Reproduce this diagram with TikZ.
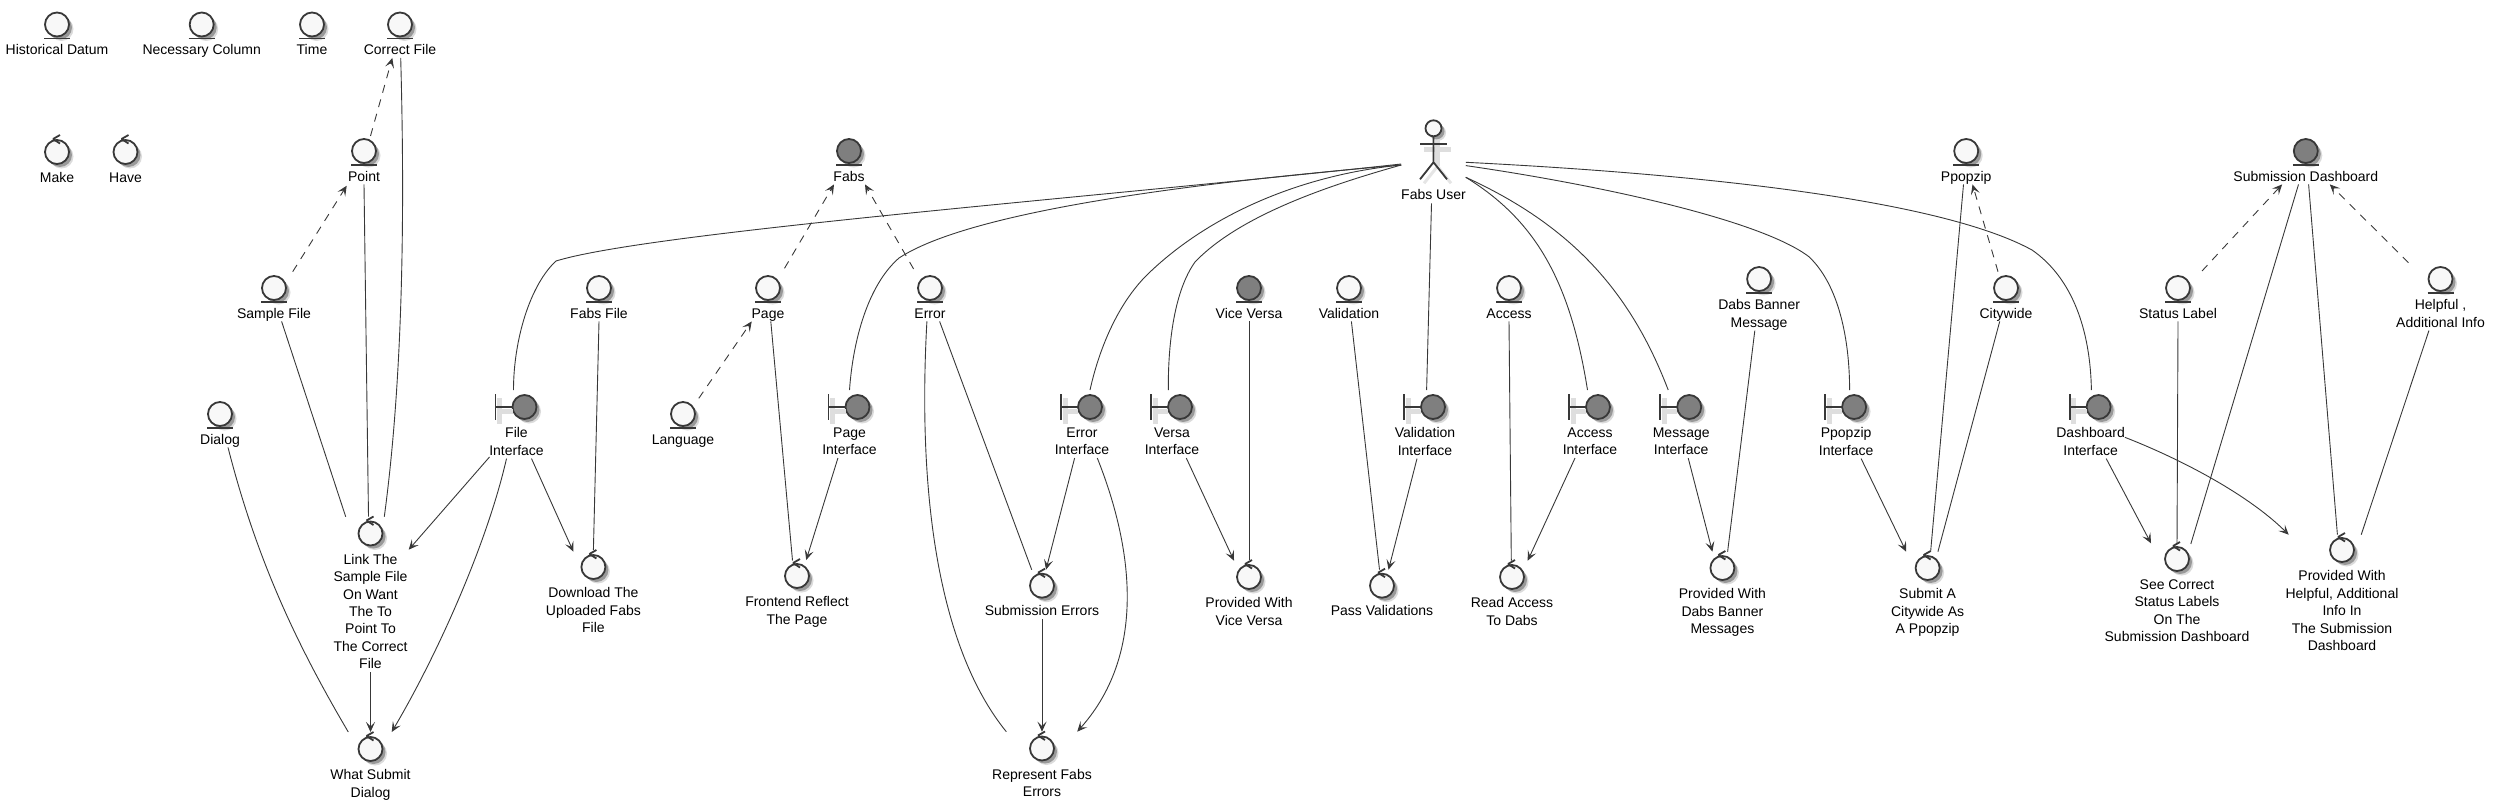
\documentclass[tikz,border=0pt]{standalone}
\usepackage{fontspec}
\setmainfont{Liberation Sans}
\usetikzlibrary{positioning}
\usetikzlibrary{shadows}
\usetikzlibrary{arrows.meta}
\definecolor{inkline}{HTML}{383838}
\definecolor{paleball}{HTML}{F8F8F8}
\definecolor{darkball}{HTML}{7F7F7F}
\newcommand{\labelstrut}{\rule[-3.35pt]{0pt}{16.7pt}}
\tikzset{
    glyphline/.style={draw=inkline, line width=1.8pt},
    glyphshade/.style={draw=black!13, line width=5pt},
    softshadow/.style={drop shadow={shadow xshift=4.5pt, shadow yshift=-4.5pt, fill=black, opacity=0.14}, drop shadow={shadow xshift=3pt, shadow yshift=-3pt, fill=black, opacity=0.3}},
    ball/.style={circle, minimum size=24pt, inner sep=0pt, outer sep=0pt, fill=paleball, glyphline, softshadow},
    darkfill/.style={fill=darkball},
    entity/.style={ball, append after command={([xshift=-13pt,yshift=-2pt]\tikzlastnode.south) edge[glyphline] ([xshift=13pt,yshift=-2pt]\tikzlastnode.south)}},
    control/.style={ball, append after command={([xshift=-4pt,yshift=13pt]\tikzlastnode.center) edge[glyphline] ([xshift=3pt,yshift=17pt]\tikzlastnode.center) ([xshift=-4pt,yshift=13pt]\tikzlastnode.center) edge[glyphline] ([xshift=3pt,yshift=8.5pt]\tikzlastnode.center)}},
    boundary/.style={ball, darkfill, append after command={([xshift=-25pt,yshift=-4pt]\tikzlastnode.center) edge[glyphshade] ([xshift=-12pt,yshift=-4pt]\tikzlastnode.center) ([xshift=-25pt,yshift=9pt]\tikzlastnode.center) edge[glyphshade] ([xshift=-25pt,yshift=-17pt]\tikzlastnode.center) ([xshift=-29pt,yshift=13pt]\tikzlastnode.center) edge[glyphline] ([xshift=-29pt,yshift=-13pt]\tikzlastnode.center) ([xshift=-29pt]\tikzlastnode.center) edge[glyphline] (\tikzlastnode.west)}},
    elabel/.style={align=center, inner sep=0pt, outer sep=0pt, text=black, font=\fontsize{14}{17.4}\selectfont, execute at begin node=\labelstrut, execute at end node=\labelstrut},
    mlabel/.style={elabel, yshift=-4pt},
    blabel/.style={mlabel, xshift=-8pt},
    assoc/.style={draw=inkline, line width=0.9pt},
    flow/.style={assoc, -{Stealth[length=10pt,width=9pt,inset=4.5pt]}},
    depend/.style={flow, dash pattern=on 8pt off 7pt},
    node distance=4.7pt
}
\begin{document}
\begin{tikzpicture}[x=1pt, y=-1pt]
    \useasboundingbox (0,0) rectangle (2495,808);

    \node [entity] (datum) at (57,24.5) {};
    \node [elabel, below=of datum] (datuml) {Historical Datum};
    \node [entity] (column) at (201.7,24.5) {};
    \node [elabel, below=of column] (columnl) {Necessary Column};
    \node [entity] (time) at (312,24.5) {};
    \node [elabel, below=of time] (timel) {Time};
    \node [entity] (correct) at (400,24.5) {};
    \node [elabel, below=of correct] (correctl) {Correct File};

    \node [control] (make) at (57,152) {};
    \node [elabel, below=of make] (makel) {Make};
    \node [control] (have) at (125.5,152) {};
    \node [elabel, below=of have] (havel) {Have};
    \node [entity] (point) at (364,151) {};
    \node [elabel, below=of point] (pointl) {Point};
    \node [entity, darkfill] (fabs) at (849,151) {};
    \node [elabel, below=of fabs] (fabsl) {Fabs};
    \node [entity] (ppopzip) at (1966.2,151) {};
    \node [elabel, below=of ppopzip] (ppopzipl) {Ppopzip};
    \node [entity, darkfill] (dashboard) at (2305.8,151) {};
    \node [elabel, below=of dashboard] (dashboardl) {Submission Dashboard};

    \node [entity] (sample) at (274,288) {};
    \node [elabel, below=of sample] (samplel) {Sample File};
    \node [entity] (fabsfile) at (599,288) {};
    \node [elabel, below=of fabsfile] (fabsfilel) {Fabs File};
    \node [entity] (page) at (768,288) {};
    \node [elabel, below=of page] (pagel) {Page};
    \node [entity] (error) at (930,288) {};
    \node [elabel, below=of error] (errorl) {Error};
    \node [entity, darkfill] (vice) at (1249,288) {};
    \node [elabel, below=of vice] (vicel) {Vice Versa};
    \node [entity] (validation) at (1349,288) {};
    \node [elabel, below=of validation] (validationl) {Validation};
    \node [entity] (access) at (1509,288) {};
    \node [elabel, below=of access] (accessl) {Access};
    \node [entity] (banner) at (1759.1,279) {};
    \node [mlabel, below=of banner] (bannerl) {Dabs Banner\\Message};
    \node [entity] (citywide) at (2006,288) {};
    \node [elabel, below=of citywide] (citywidel) {Citywide};
    \node [entity] (status) at (2178,288) {};
    \node [elabel, below=of status] (statusl) {Status Label};
    \node [entity] (helpful) at (2440.5,279) {};
    \node [mlabel, below=of helpful] (helpfull) {Helpful ,\\Additional Info};

    \node [entity] (dialog) at (220,414) {};
    \node [elabel, below=of dialog] (dialogl) {Dialog};
    \node [entity] (language) at (683,414) {};
    \node [elabel, below=of language] (languagel) {Language};

    \node [boundary] (fileif) at (524.5,407) {};
    \node [blabel, below=of fileif] (fileifl) {File\\Interface};
    \node [boundary] (pageif) at (857.5,407) {};
    \node [blabel, below=of pageif] (pageifl) {Page\\Interface};
    \node [boundary] (errorif) at (1090,407) {};
    \node [blabel, below=of errorif] (errorifl) {Error\\Interface};
    \node [boundary] (versaif) at (1180,407) {};
    \node [blabel, below=of versaif] (versaifl) {Versa\\Interface};
    \node [boundary] (validif) at (1433,407) {};
    \node [blabel, below=of validif] (validifl) {Validation\\Interface};
    \node [boundary] (accessif) at (1598,407) {};
    \node [blabel, below=of accessif] (accessifl) {Access\\Interface};
    \node [boundary] (messageif) at (1689.2,407) {};
    \node [blabel, below=of messageif] (messageifl) {Message\\Interface};
    \node [boundary] (ppopzipif) at (1854.1,407) {};
    \node [blabel, below=of ppopzipif] (ppopzipifl) {Ppopzip\\Interface};
    \node [boundary] (dashif) at (2098.6,407) {};
    \node [blabel, below=of dashif] (dashifl) {Dashboard\\Interface};

    \node [control] (linkfile) at (370.5,533.5) {};
    \node [mlabel, below=of linkfile] (linkfilel) {Link The\\Sample File\\On Want\\The To\\Point To\\The Correct\\File};
    \node [control] (submit) at (370.5,749) {};
    \node [mlabel, below=of submit] (submitl) {What Submit\\Dialog};
    \node [control] (download) at (593.4,567) {};
    \node [mlabel, below=of download] (downloadl) {Download The\\Uploaded Fabs\\File};
    \node [control] (reflect) at (797,576) {};
    \node [mlabel, below=of reflect] (reflectl) {Frontend Reflect\\The Page};
    \node [control] (suberrors) at (1042,585.7) {};
    \node [elabel, below=of suberrors] (suberrorsl) {Submission Errors};
    \node [control] (represent) at (1042,748.5) {};
    \node [mlabel, below=of represent] (representl) {Represent Fabs\\Errors};
    \node [control] (providevice) at (1249,577) {};
    \node [mlabel, below=of providevice] (providevicel) {Provided With\\Vice Versa};
    \node [control] (pass) at (1382,585.7) {};
    \node [elabel, below=of pass] (passl) {Pass Validations};
    \node [control] (readdabs) at (1512,577) {};
    \node [mlabel, below=of readdabs] (readdabsl) {Read Access\\To Dabs};
    \node [control] (providedabs) at (1722.4,568) {};
    \node [mlabel, below=of providedabs] (providedabsl) {Provided With\\Dabs Banner\\Messages};
    \node [control] (submita) at (1927.6,568) {};
    \node [mlabel, below=of submita] (submital) {Submit A\\Citywide As\\A Ppopzip};
    \node [control] (seelabels) at (2177,559) {};
    \node [mlabel, below=of seelabels] (seelabelsl) {See Correct\\Status Labels\\On The\\Submission Dashboard};
    \node [control] (providehelp) at (2342,550) {};
    \node [mlabel, below=of providehelp] (providehelpl) {Provided With\\Helpful, Additional\\Info In\\The Submission\\Dashboard};

    \node [circle, minimum size=16pt, inner sep=0pt, outer sep=0pt, fill=paleball, glyphline, softshadow] (user) at (1433.5,128.3) {};
    \node [elabel, below=50.3pt of user] (userl) {Fabs User};
    \draw [glyphshade] ([xshift=-10pt,yshift=-13pt]user.south) -- ++(27,0);
    \draw [glyphshade] ([xshift=4pt,yshift=-4pt]user.south) -- ++(0,26);
    \draw [glyphshade, line width=3pt, draw=black!10] ([xshift=4pt,yshift=-30pt]user.south) -- ++(-13.5,17) ++(13.5,-17) -- ++(13.5,17);
    \draw [glyphline] (user.south) -- ++(0,26) -- ++(-13.5,17) ++(13.5,-17) -- ++(13.5,17);
    \draw [glyphline] ([xshift=-13.5pt,yshift=-8pt]user.south) -- ++(27,0);

    \draw [depend] ([xshift=6.5pt,yshift=3pt]point.north) -- ([xshift=-7.7pt]correctl.south);
    \draw [depend] ([xshift=18.7pt,yshift=4.3pt]sample.north) -- ([xshift=-17.3pt,yshift=-1.3pt]pointl.south);
    \draw [depend] ([xshift=16.5pt,yshift=7.7pt]page.north) -- ([xshift=-15pt]fabsl.south);
    \draw [depend] ([xshift=-16.4pt,yshift=7pt]error.north) -- ([xshift=16pt]fabsl.south);
    \draw [depend] ([xshift=15.8pt,yshift=3.7pt]language.north) -- ([xshift=-16.3pt]pagel.south);
    \draw [depend] ([xshift=-8pt,yshift=4.3pt]citywide.north) -- ([xshift=6.3pt]ppopzipl.south);
    \draw [depend] ([xshift=24pt,yshift=5pt]status.north) -- ([xshift=-23.7pt]dashboardl.south);
    \draw [depend] ([xshift=-32pt,yshift=4.3pt]helpful.north) -- ([xshift=24pt]dashboardl.south);

    \draw [assoc] ([yshift=22.6pt]userl.north west) .. controls (1100,197) and (650,232) .. (556,261) .. controls (530,285) and (513.5,340) .. ([xshift=-11pt,yshift=5pt]fileif.north);
    \draw [assoc] ([yshift=21.6pt]userl.north west) .. controls (1250,178) and (980,205) .. (899,258) .. controls (868,285) and (853,340) .. ([xshift=-8pt,yshift=5pt]pageif.north);
    \draw [assoc] ([yshift=21.6pt]userl.north west) .. controls (1300,175) and (1210,215) .. (1150,272) .. controls (1120,300) and (1100,345) .. ([yshift=5pt]errorif.north);
    \draw [assoc] ([yshift=21.6pt]userl.north west) .. controls (1330,185) and (1240,215) .. (1195,262) .. controls (1175,290) and (1168,340) .. ([xshift=-11.7pt,yshift=5pt]versaif.north);
    \draw [assoc] ([xshift=-2pt]userl.south) -- ([xshift=-6.4pt,yshift=5pt]validif.north);
    \draw [assoc] ([yshift=9.3pt]userl.north east) .. controls (1535,220) and (1570,280) .. ([xshift=-10.5pt,yshift=5pt]accessif.north);
    \draw [assoc] ([yshift=9.3pt]userl.north east) .. controls (1570,225) and (1630,290) .. ([xshift=-21pt,yshift=5pt]messageif.north);
    \draw [assoc] ([yshift=21pt]userl.north east) .. controls (1600,185) and (1760.6,220) .. (1808.9,256.7) .. controls (1839,285) and (1849.6,340) .. ([xshift=-4.5pt,yshift=5pt]ppopzipif.north);
    \draw [assoc] ([yshift=24.3pt]userl.north east) .. controls (1660,172) and (1931.6,195) .. (2032,250) .. controls (2072.4,278) and (2090.3,330) .. ([xshift=-7.2pt,yshift=5pt]dashif.north);

    \draw [assoc] ([xshift=0.7pt]correctl.south) .. controls (406,250) and (400,400) .. ([xshift=13.8pt,yshift=4.8pt]linkfile.north);
    \draw [assoc] (pointl.south) -- ([xshift=-2pt,yshift=4.8pt]linkfile.north);
    \draw [assoc] ([xshift=7.6pt]samplel.south) -- ([xshift=-24.8pt,yshift=4.8pt]linkfile.north);
    \draw [assoc] ([xshift=8pt]dialogl.south) .. controls (258,565) and (300,650) .. ([xshift=-22.2pt,yshift=5pt]submit.north);
    \draw [assoc] (fabsfilel.south) -- ([yshift=5pt]download.north);
    \draw [assoc] ([xshift=2.8pt]pagel.south) -- ([xshift=-4.5pt,yshift=3.5pt]reflect.north);
    \draw [assoc] ([xshift=9.6pt]errorl.south) -- ([xshift=-10.3pt,yshift=4pt]suberrors.north);
    \draw [assoc] ([xshift=-3.1pt]errorl.south) .. controls (917,500) and (940,650) .. ([xshift=-35.7pt,yshift=4.8pt]represent.north);
    \draw [assoc] (vicel.south) -- ([yshift=5pt]providevice.north);
    \draw [assoc] ([xshift=2.4pt]validationl.south) -- ([xshift=-2.5pt,yshift=4pt]pass.north);
    \draw [assoc] (accessl.south) -- ([xshift=-0.7pt,yshift=4.3pt]readdabs.north);
    \draw [assoc] ([xshift=-4.3pt]bannerl.south) -- ([xshift=5.2pt,yshift=4.3pt]providedabs.north);
    \draw [assoc] ([xshift=-2.7pt]ppopzipl.south) -- ([xshift=3pt,yshift=4.3pt]submita.north);
    \draw [assoc] ([xshift=-6.3pt]citywidel.south) -- ([xshift=10.3pt,yshift=4.3pt]submita.north);
    \draw [assoc] (statusl.south) -- ([yshift=3pt]seelabels.north);
    \draw [assoc] ([xshift=-7.3pt]dashboardl.south) -- ([xshift=13.8pt,yshift=3pt]seelabels.north);
    \draw [assoc] ([xshift=2.8pt]dashboardl.south) -- ([xshift=-4.6pt,yshift=3.3pt]providehelp.north);
    \draw [assoc] ([xshift=-11.6pt]helpfull.south) -- ([xshift=19.2pt,yshift=3.3pt]providehelp.north);

    \draw [flow] ([xshift=-27pt,yshift=1.6pt]fileifl.south) -- ([xshift=38.2pt,yshift=-4.2pt]linkfile.south);
    \draw [flow] ([xshift=-10pt]fileifl.south) .. controls (488,540) and (440,650) .. ([xshift=21.2pt,yshift=5pt]submit.north);
    \draw [flow] ([xshift=15pt]fileifl.south) -- ([xshift=-20pt,yshift=3.3pt]download.north);
    \draw [flow] (linkfilel.south) -- ([yshift=5pt]submit.north);
    \draw [flow] ([xshift=-11.6pt]pageifl.south) -- ([xshift=9.2pt,yshift=4pt]reflect.north);
    \draw [flow] ([xshift=-7.4pt]errorifl.south) -- ([xshift=4pt,yshift=4pt]suberrors.north);
    \draw [flow] ([xshift=15.3pt]errorifl.south) .. controls (1130,540) and (1150,650) .. ([xshift=35.2pt,yshift=4.8pt]represent.north);
    \draw [flow] (suberrorsl.south) -- ([yshift=4.8pt]represent.north);
    \draw [flow] ([xshift=14.3pt]versaifl.south) -- ([xshift=-15pt,yshift=4.3pt]providevice.north);
    \draw [flow] ([xshift=-8pt]validifl.south) -- ([xshift=6.5pt,yshift=4pt]pass.north);
    \draw [flow] ([xshift=-15pt]accessifl.south) -- ([xshift=15.7pt,yshift=4.3pt]readdabs.north);
    \draw [flow] ([xshift=7pt]messageifl.south) -- ([xshift=-10pt,yshift=4.3pt]providedabs.north);
    \draw [flow] ([xshift=15pt]ppopzipifl.south) -- ([xshift=-21.4pt,yshift=4.3pt]submita.north);
    \draw [flow] ([xshift=15.6pt]dashifl.south) -- ([xshift=-26pt,yshift=3.7pt]seelabels.north);
    \draw [flow] ([yshift=-9.6pt]dashifl.north east) .. controls (2183,460) and (2248.4,495) .. ([xshift=-53.3pt,yshift=3.3pt]providehelp.north);
\end{tikzpicture}
\end{document}
